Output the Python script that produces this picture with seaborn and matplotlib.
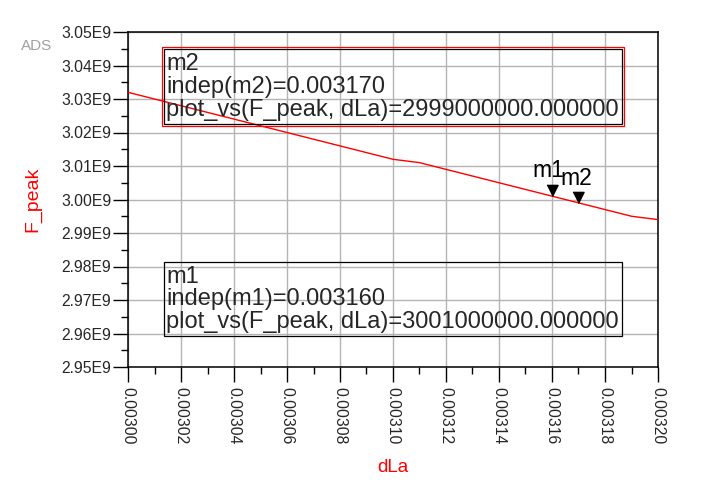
import numpy as np
import seaborn as sns
from matplotlib import pyplot as plt
from matplotlib.patches import Rectangle
from matplotlib.ticker import MultipleLocator, FuncFormatter

# sweep of dLa and the peak frequency
dla = [0.00300, 0.00301, 0.00302, 0.00303, 0.00304, 0.00305, 0.00306,
       0.00307, 0.00308, 0.00309, 0.00310, 0.00311, 0.00312, 0.00313,
       0.00314, 0.00315, 0.00316, 0.00317, 0.00318, 0.00319, 0.00320]
f_peak = [3.032e9, 3.030e9, 3.028e9, 3.026e9, 3.024e9, 3.022e9, 3.020e9,
          3.018e9, 3.016e9, 3.014e9, 3.012e9, 3.011e9, 3.009e9, 3.007e9,
          3.005e9, 3.003e9, 3.001e9, 2.999e9, 2.997e9, 2.995e9, 2.994e9]

marker_names = ["m1", "m2"]
marker_x = [0.00316, 0.00317]
marker_y = [3.001e9, 2.999e9]

sns.set_style("white")
plt.rcParams['font.family'] = ['Liberation Sans', 'DejaVu Sans']

W, H = 722, 480
fig = plt.figure(figsize=(W / 100, H / 100), dpi=100)
ax = fig.add_axes([128 / W, 1 - 367 / H, 530 / W, 335 / H])


def fx(x):
    return x / W


def fy(y):
    return 1 - y / H


sns.lineplot(x=dla, y=f_peak, color='#ff0000', linewidth=1, ax=ax, zorder=3)

ax.set_xlim(0.00300, 0.00320)
ax.set_ylim(2.95e9, 3.05e9)
ax.xaxis.set_major_locator(MultipleLocator(0.00002))
ax.xaxis.set_minor_locator(MultipleLocator(0.00001))
ax.yaxis.set_major_locator(MultipleLocator(0.01e9))
ax.yaxis.set_minor_locator(MultipleLocator(0.005e9))
ax.xaxis.set_major_formatter(FuncFormatter(lambda v, p: f"{v:.5f}"))
ax.yaxis.set_major_formatter(FuncFormatter(lambda v, p: f"{v / 1e9:.2f}E9"))

ax.grid(True, which='major', color='#b4b4b4', linewidth=1)
for s in ax.spines.values():
    s.set_color('black')
    s.set_linewidth(1.1)

ax.tick_params(which='major', direction='out', length=11, width=1, color='black',
               labelsize=11.3, left=True, bottom=True)
ax.tick_params(which='minor', direction='out', length=5, width=1, color='black',
               left=True, bottom=True)
ax.tick_params(axis='x', which='major', labelrotation=-90, pad=3.5)
ax.tick_params(axis='y', which='major', pad=1)

ax.set_xlabel('dLa', color='#ff0000', fontsize=13.5, va='center')
ax.set_ylabel('F_peak', color='#ff0000', fontsize=14, va='center')
ax.xaxis.set_label_coords(0.5, (367 - 468) / 335)
ax.yaxis.set_label_coords((33 - 128) / 530, 0.5)

# marker triangles, tip on the trace
tri = [(-0.5, 1.0), (0.5, 1.0), (0.0, 0.0)]
ax.plot(marker_x, marker_y, linestyle='none', marker=tri, markersize=16,
        color='black', zorder=4)
offsets = [(-4, 14), (-2, 13)]
for name, mx, my, off in zip(marker_names, marker_x, marker_y, offsets):
    ax.annotate(name, (mx, my), xytext=off, textcoords='offset pixels',
                ha='center', va='bottom', fontsize=16.5, color='black')

# marker readout boxes
def readout(x0, y0, x1, y1, lines, baselines, double=False):
    fig.add_artist(Rectangle((fx(x0), fy(y1)), fx(x1 - x0), (y1 - y0) / H,
                             transform=fig.transFigure, fill=False,
                             edgecolor='black', linewidth=0.9))
    if double:
        fig.add_artist(Rectangle((fx(x0 - 2), fy(y1 + 2)), fx(x1 - x0 + 4),
                                 (y1 - y0 + 4) / H, transform=fig.transFigure,
                                 fill=False, edgecolor='#ff0000', linewidth=0.9))
    for txt, b in zip(lines, baselines):
        fig.text(fx(x0 + 2), fy(b), txt, fontsize=17, ha='left', va='baseline')


readout(164, 49, 622, 124,
        ["m2", "indep(m2)=0.003170", "plot_vs(F_peak, dLa)=2999000000.000000"],
        [70, 93, 116], double=True)
readout(164, 262, 622, 336,
        ["m1", "indep(m1)=0.003160", "plot_vs(F_peak, dLa)=3001000000.000000"],
        [283, 305.5, 328])

fig.text(fx(37), fy(46), "ADS", color='#a0a0a0', fontsize=11, ha='center', va='center')

plt.savefig("out.png", dpi=100)
